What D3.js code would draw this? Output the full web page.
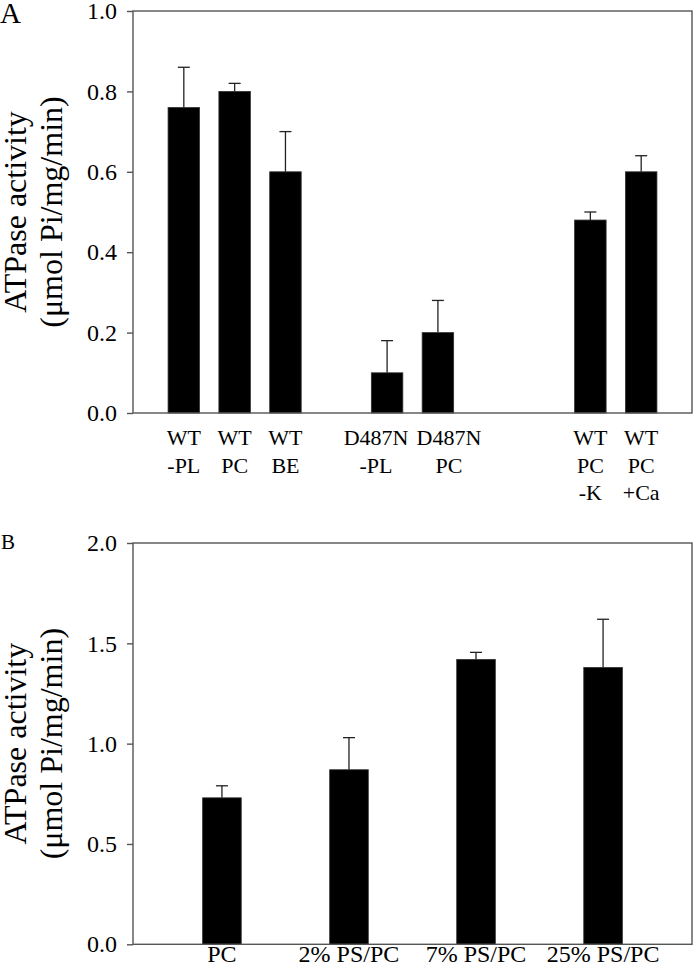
<!DOCTYPE html>
<html><head><meta charset="utf-8">
<script src="https://cdn.jsdelivr.net/npm/d3@7"></script>
<style>
body{margin:0;background:#fff}
text{font-family:"Liberation Serif","Times New Roman",serif;fill:#000}
</style>
</head><body>
<svg id="c" width="693" height="975"></svg>
<script>
// ---- Data ----
const categoriesA = [["WT","-PL"],["WT","PC"],["WT","BE"],[],["D487N","-PL"],["D487N","PC"],[],[],["WT","PC","-K"],["WT","PC","+Ca"]];
const valuesA = [0.76,0.80,0.60,null,0.10,0.20,null,null,0.48,0.60];
const errorsA = [0.10,0.02,0.10,null,0.08,0.08,null,null,0.02,0.04];
const ticksA = [0,0.2,0.4,0.6,0.8,1.0];

const categoriesB = [["PC"],["2% PS/PC"],["7% PS/PC"],["25% PS/PC"]];
const valuesB = [0.73,0.87,1.42,1.38];
const errorsB = [0.06,0.16,0.035,0.24];
const ticksB = [0,0.5,1.0,1.5,2.0];

const yTitle = ["ATPase activity","(\u03bcmol Pi/mg/min)"];

const svg = d3.select("#c");

function drawPanel(o){
  const g = svg.append("g");
  const x = d3.scaleBand().domain(d3.range(o.cats.length)).range([o.left,o.right])
     .paddingInner(o.pi).paddingOuter(o.po);
  const y = d3.scaleLinear().domain([0,o.ymax]).range([o.bottom,o.top]);

  const data = o.cats.map((c,i)=>({c, v:o.vals[i], e:o.errs[i], i})).filter(d=>d.v!=null);
  // error bars (upper only)
  const eg = g.append("g").attr("stroke","#222").attr("stroke-width",1.3);
  data.forEach(d=>{
    const cx = x(d.i)+x.bandwidth()/2;
    eg.append("line").attr("x1",cx).attr("x2",cx).attr("y1",y(d.v)).attr("y2",y(d.v+d.e));
    eg.append("line").attr("x1",cx-6).attr("x2",cx+6).attr("y1",y(d.v+d.e)).attr("y2",y(d.v+d.e));
  });
  g.append("g").selectAll("rect").data(data).join("rect")
    .attr("x",d=>x(d.i)).attr("width",x.bandwidth())
    .attr("y",d=>y(d.v)).attr("height",d=>y(0)-y(d.v))
    .attr("fill","#000").attr("stroke","#333").attr("stroke-width",0.8);

  // frame
  g.append("rect").attr("x",o.left).attr("y",o.top)
    .attr("width",o.right-o.left).attr("height",o.bottom-o.top)
    .attr("fill","none").attr("stroke","#555").attr("stroke-width",1.4);

  // y axis
  const ax = g.append("g").attr("transform",`translate(${o.left},0)`)
    .call(d3.axisLeft(y).tickValues(o.ticks).tickFormat(d3.format(".1f")).tickSize(6).tickPadding(10));
  ax.select(".domain").remove();
  ax.selectAll(".tick line").attr("stroke","#555").attr("stroke-width",1.4);
  ax.selectAll(".tick text").attr("font-size",o.tickFont)
    .attr("font-family",'"Liberation Serif","Times New Roman",serif').attr("fill","#000");

  // x labels
  const lg = g.append("g");
  const labels = [];
  o.cats.forEach((c,i)=>{
    if(!c.length) return;
    const cx = x(i)+x.bandwidth()/2;
    const t = lg.append("text").attr("text-anchor","middle").attr("font-size",o.labelFont);
    c.forEach((line,k)=>{
      t.append("tspan").attr("x",cx).attr("y",o.labelBaseline + k*o.lineGap).text(line);
    });
    labels.push({t, cx, w:t.node().getBBox().width});
  });
  // spread apart labels that would collide
  const gap = 8;
  for(let k=1;k<labels.length;k++){
    const a=labels[k-1], b=labels[k];
    const need = (a.w+b.w)/2 + gap - (b.cx-a.cx);
    if(need>0){
      a.cx -= need/2; b.cx += need/2;
    }
  }
  labels.forEach(l=>l.t.selectAll("tspan").attr("x",l.cx));

  // y title
  const yt = g.append("text").attr("text-anchor","middle").attr("font-size",o.titleFont)
    .attr("transform",`translate(0,${(o.top+o.bottom)/2}) rotate(-90)`);
  yTitle.forEach((s,k)=>{
    yt.append("tspan").attr("x",0).attr("y",o.titleX[k]).text(s);
  });

  // panel label
  g.append("text").attr("x",o.plX).attr("y",o.plY).attr("font-size",o.plFont).text(o.pl);
}

drawPanel({
  cats:categoriesA, vals:valuesA, errs:errorsA, ticks:ticksA, ymax:1.0,
  left:133, right:692, top:11, bottom:413, pi:0.38, po:0.69,
  tickFont:24, labelFont:22, labelBaseline:445, lineGap:27.5,
  titleFont:32, titleX:[26,62], pl:"A", plX:0, plY:23, plFont:29
});
drawPanel({
  cats:categoriesB, vals:valuesB, errs:errorsB, ticks:ticksB, ymax:2.0,
  left:133, right:692, top:543, bottom:944.3, pi:0.696, po:0.548,
  tickFont:24, labelFont:24, labelBaseline:962, lineGap:27.5,
  titleFont:32, titleX:[26,62], pl:"B", plX:1, plY:549, plFont:21
});
</script>
</body></html>
